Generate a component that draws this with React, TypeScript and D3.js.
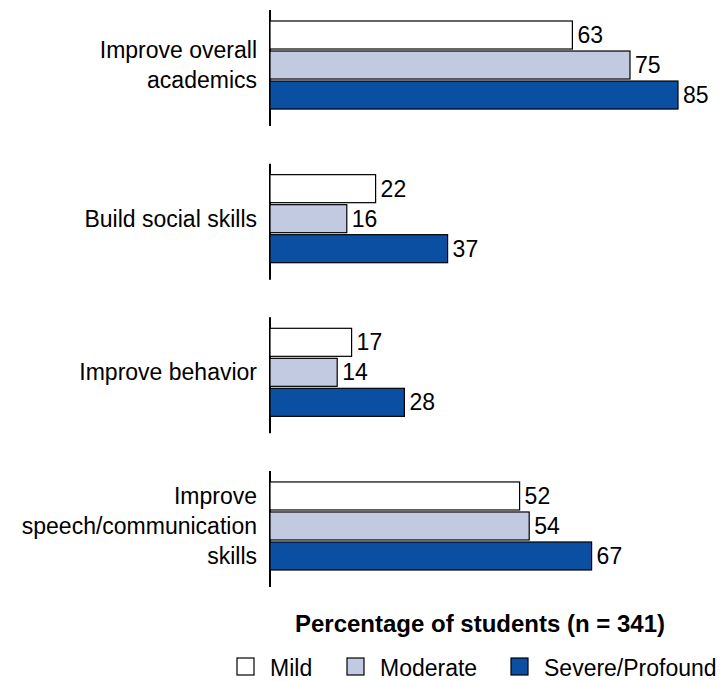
import React from "react";
import * as d3 from "d3";

const categories = ["Improve overall academics", "Build social skills", "Improve behavior", "Improve speech/communication skills"];
const categoryLines = [["Improve overall", "academics"], ["Build social skills"], ["Improve behavior"], ["Improve", "speech/communication", "skills"]];
const seriesNames = ["Mild", "Moderate", "Severe/Profound"];
const mild = [63, 22, 17, 52];
const moderate = [75, 16, 14, 54];
const severe = [85, 37, 28, 67];
const colors = ["#ffffff", "#c2cae2", "#0b4fa2"];

export default function App() {
  const W = 723, H = 681;
  const x0 = 270;
  const fs = 23;
  const x = d3.scaleLinear().domain([0, 85]).range([x0, 678]);
  const y = d3.scaleBand().domain(categories).range([20, 571]).paddingInner(0.414).paddingOuter(0);
  const sub = d3.scaleBand().domain(seriesNames).range([0, y.bandwidth()]);
  const data = [mild, moderate, severe];
  const font = "'Liberation Sans', Arial, sans-serif";
  return (
    <svg width={W} height={H} style={{ position: "absolute", left: 0, top: 0 }} fontFamily={font}>
      {categories.map((c, i) => {
        const y0 = y(c)!;
        const bw = y.bandwidth();
        const lines = categoryLines[i];
        const cy = y0 + bw / 2;
        return (
          <g key={c}>
            <line x1={x0} x2={x0} y1={y0 - 10} y2={y0 + bw + 16} stroke="#000" strokeWidth={2} />
            {seriesNames.map((s, j) => {
              const v = data[j][i];
              const by = y0 + sub(s)!;
              return (
                <g key={s}>
                  <rect x={x0} y={by + 1} width={x(v) - x0} height={sub.bandwidth() - 2} fill={colors[j]} stroke="#000" strokeWidth={1.2} />
                  <text x={x(v) + 5} y={by + sub.bandwidth() / 2 + 8} fontSize={fs}>{v}</text>
                </g>
              );
            })}
            {lines.map((l, k) => (
              <text key={k} x={257} y={cy + (k - (lines.length - 1) / 2) * 30 + 8} textAnchor="end" fontSize={fs}>{l}</text>
            ))}
          </g>
        );
      })}
      <text x={480} y={632} textAnchor="middle" fontSize={24} fontWeight="bold">Percentage of students (n = 341)</text>
      {[{ x: 237, t: "Mild" }, { x: 347, t: "Moderate" }, { x: 511, t: "Severe/Profound" }].map((l, i) => (
        <g key={l.t}>
          <rect x={l.x} y={658} width={17} height={17} fill={colors[i]} stroke="#000" strokeWidth={1.2} />
          <text x={l.x + 33} y={676} fontSize={fs}>{l.t}</text>
        </g>
      ))}
    </svg>
  );
}
